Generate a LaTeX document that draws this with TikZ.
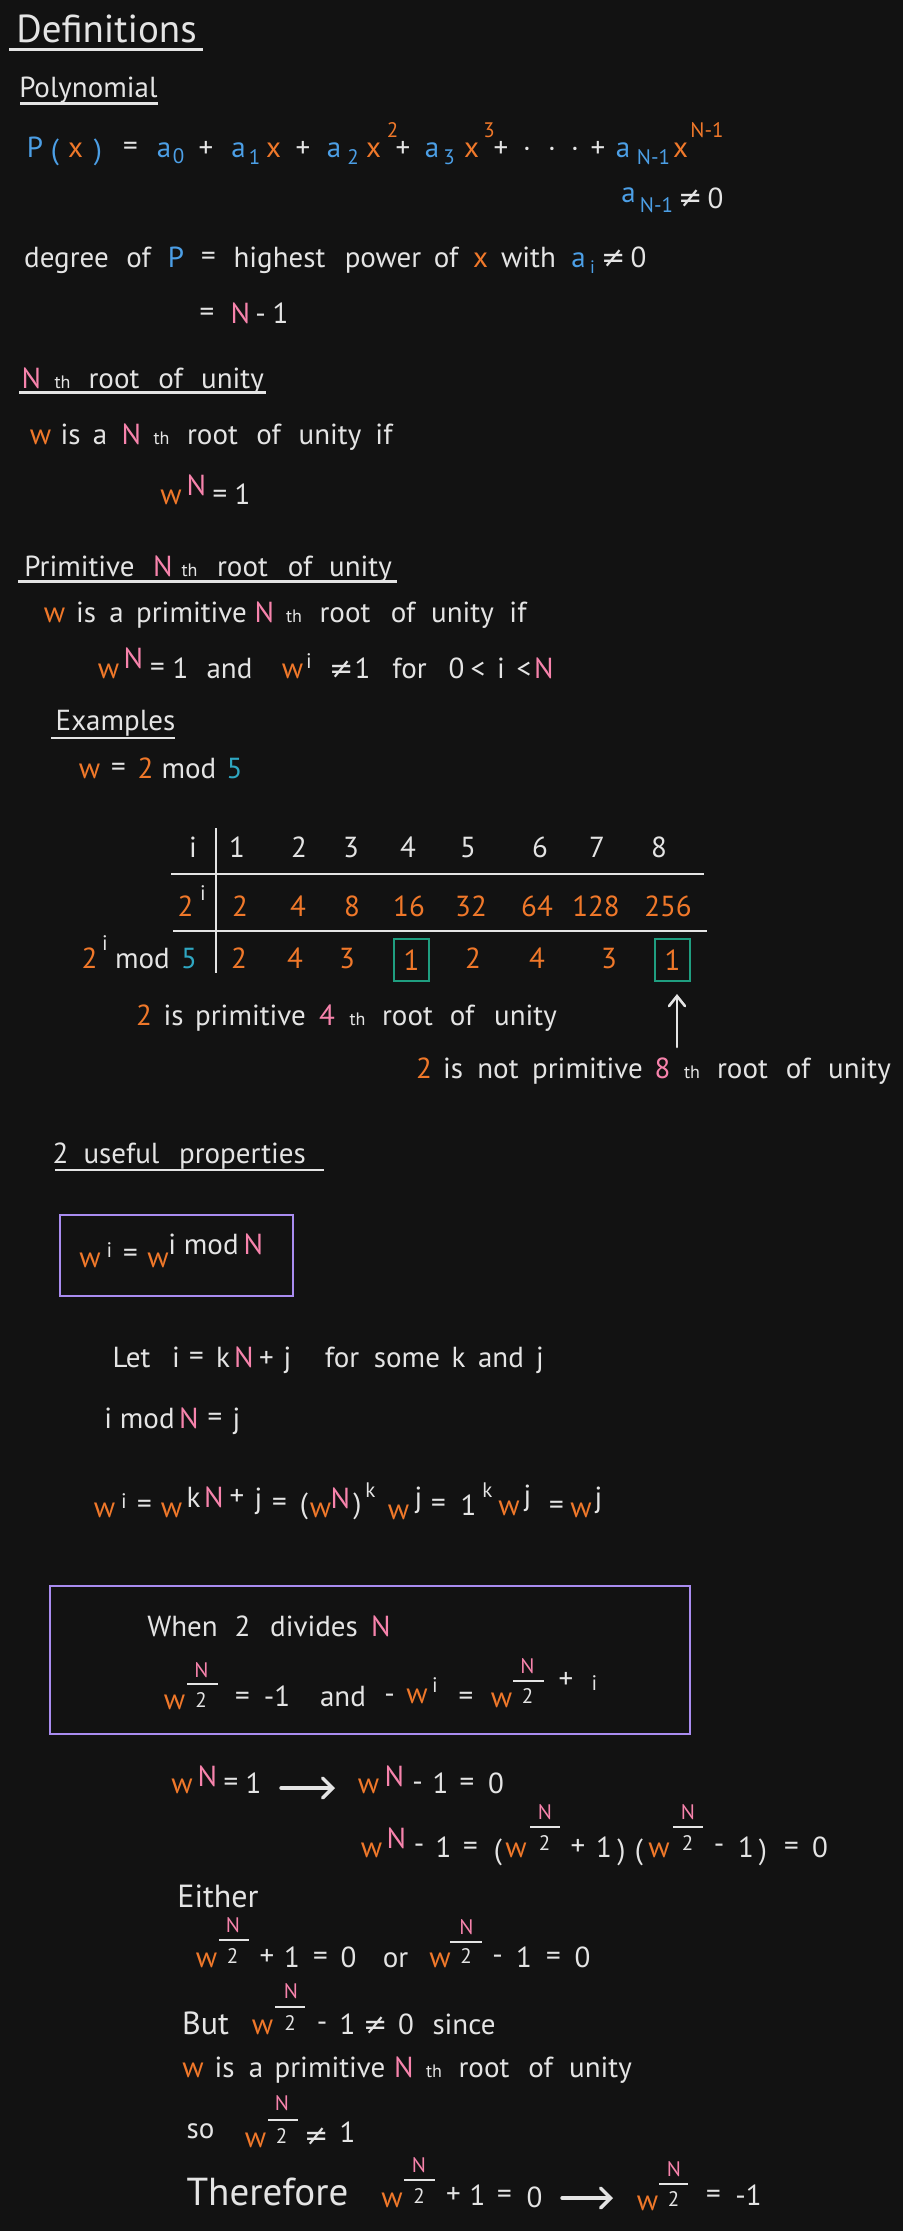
\documentclass[tikz,border=0pt]{standalone}
\usepackage{fontspec}
\setmainfont{PT Sans}
\newfontfamily\symf{DejaVu Sans}
\usetikzlibrary{arrows.meta}
\definecolor{bgc}{HTML}{121212}
\definecolor{fgc}{HTML}{E4E4E4}
\definecolor{orc}{HTML}{F0782A}
\definecolor{blc}{HTML}{4C9FE6}
\definecolor{pkc}{HTML}{F783AC}
\definecolor{tlc}{HTML}{2FA7C2}
\definecolor{gnc}{HTML}{1F9E80}
\definecolor{puc}{HTML}{A98CF0}
\newcommand\fs[1]{\fontsize{#1}{#1}\selectfont}
\newcommand\tk[5][]{\node[tx,#1] (#2) at (#3,#4) {#5};}
\newcommand\neqsym{{\symf ≠}}
\begin{document}
\begin{tikzpicture}[x=1pt,y=-1pt,
  tx/.style={anchor=base, inner sep=0pt, text=fgc, font=\fs{29}},
  cor/.style={text=orc}, cbl/.style={text=blc}, cpk/.style={text=pkc}, ctl/.style={text=tlc},
  sm/.style={font=\fs{21}}, xs/.style={font=\fs{18}}, hd/.style={font=\fs{29}},
  uline/.style={draw=fgc, line width=2.2pt},
  fbar/.style={draw=fgc, line width=1.8pt},
  pbox/.style={draw=puc, line width=2pt},
  gbox/.style={draw=gnc, line width=2pt, minimum width=35pt, minimum height=42pt, anchor=center, inner sep=0pt, text=orc, font=\fs{29}},
  arr/.style={draw=fgc, line width=3.4pt, line cap=round, -{Straight Barb[length=10pt,width=20pt,line cap=round]}},
  arrup/.style={draw=fgc, line width=2.6pt, line cap=round, -{Straight Barb[length=10pt,width=16pt,line cap=round]}}
]
\fill[bgc] (0,0) rectangle (903,2231);
\useasboundingbox (0,0) rectangle (903,2231);

% ---------- Definitions ----------
\tk[font=\fs{39}]{h0}{106.5}{42}{Definitions}
\draw[uline] (9,49.5) -- (203,49.5);
\tk[hd]{h1}{88.4}{97}{Polynomial}
\draw[uline] (20,103.5) -- (158,103.5);

% P(x) line
\tk[cbl]{p1}{35}{157}{P}
\tk[cbl]{p2}{55}{159}{(}
\tk[cor]{p3}{75.5}{157}{x}
\tk[cbl]{p4}{98}{159}{)}
\tk{p5}{130.5}{155}{=}
\tk[cbl]{p6}{164}{157}{a}
\tk[cbl,sm]{p7}{178.5}{163}{0}
\tk{p8}{206}{157}{+}
\tk[cbl]{p9}{238.5}{157}{a}
\tk[cbl,sm]{p10}{254.5}{164}{1}
\tk[cor]{p11}{273.5}{157}{x}
\tk{p12}{303}{157}{+}
\tk[cbl]{p13}{334}{157}{a}
\tk[cbl,sm]{p14}{353}{164}{2}
\tk[cor]{p15}{373.5}{157}{x}
\tk[cor,sm]{p16}{392.5}{137}{2}
\tk{p17}{403}{157}{+}
\tk[cbl]{p18}{432}{157}{a}
\tk[cbl,sm]{p19}{449}{164}{3}
\tk[cor]{p20}{471.5}{157}{x}
\tk[cor,sm]{p21}{489}{137}{3}
\tk{p22}{501}{157}{+}
\tk{p23}{527}{157}{·}
\tk{p24}{552}{157}{·}
\tk{p25}{575}{157}{·}
\tk{p26}{598}{157}{+}
\tk[cbl]{p27}{623}{157}{a}
\tk[cbl,sm]{p28}{653.5}{164}{N-1}
\tk[cor]{p29}{680.5}{157}{x}
\tk[cor,sm]{p30}{707}{137}{N-1}

\tk[cbl]{q1}{628.5}{202}{a}
\tk[cbl,sm]{q2}{656.5}{212}{N-1}
\tk{q3}{691}{207}{\neqsym}
\tk{q4}{715.5}{208}{0}

% degree line
\tk{r1}{66.5}{267}{degree}
\tk{r2}{138.5}{267}{of}
\tk[cbl]{r3}{176}{267}{P}
\tk{r4}{208.5}{265}{=}
\tk{r5}{279.5}{267}{highest}
\tk{r6}{383}{267}{power}
\tk{r7}{446}{267}{of}
\tk[cor]{r8}{480.5}{267}{x}
\tk{r9}{528.5}{267}{with}
\tk[cbl]{r10}{578.5}{267}{a}
\tk[cbl,xs]{r11}{592.5}{273}{i}
\tk{r12}{613.5}{267}{\neqsym}
\tk{r13}{638.5}{267}{0}

\tk{s1}{207}{321}{=}
\tk[cpk]{s2}{240.5}{323}{N}
\tk{s3}{260.5}{323}{-}
\tk{s4}{280.5}{323}{1}

% ---------- N th root of unity ----------
\tk[cpk,hd]{t1}{31.5}{388}{N}
\tk[xs]{t2}{62.5}{388}{th}
\tk[hd]{t3}{114}{388}{root}
\tk[hd]{t4}{170.5}{388}{of}
\tk[hd]{t5}{232.5}{388}{unity}
\draw[uline] (19,392.5) -- (266,392.5);

\tk[cor]{u1}{40.5}{444}{w}
\tk{u2}{70.5}{444}{is}
\tk{u3}{100}{444}{a}
\tk[cpk]{u4}{131.5}{444}{N}
\tk[xs]{u5}{161.5}{444}{th}
\tk{u6}{212.5}{444}{root}
\tk{u7}{268.5}{444}{of}
\tk{u8}{330}{444}{unity}
\tk{u9}{384}{444}{if}

\tk[cor]{v1}{171}{504}{w}
\tk[cpk]{v2}{196.5}{495}{N}
\tk{v3}{220}{503}{=}
\tk{v4}{242.5}{504}{1}

% ---------- Primitive N th root of unity ----------
\tk[hd]{w1}{79.5}{576}{Primitive}
\tk[cpk,hd]{w2}{163}{576}{N}
\tk[xs]{w3}{189.5}{576}{th}
\tk[hd]{w4}{242.5}{576}{root}
\tk[hd]{w5}{300}{576}{of}
\tk[hd]{w6}{360.5}{576}{unity}
\draw[uline] (18,581.5) -- (397,581.5);

\tk[cor]{x1}{54.5}{622}{w}
\tk{x2}{86}{622}{is}
\tk{x3}{116.5}{622}{a}
\tk{x4}{191.5}{622}{primitive}
\tk[cpk]{x5}{264.5}{622}{N}
\tk[xs]{x6}{294}{622}{th}
\tk{x7}{345}{622}{root}
\tk{x8}{403}{622}{of}
\tk{x9}{462.5}{622}{unity}
\tk{x10}{518}{622}{if}

\tk[cor]{y1}{108.5}{678}{w}
\tk[cpk]{y2}{133.5}{668}{N}
\tk{y3}{157.5}{676}{=}
\tk{y4}{180.5}{678}{1}
\tk{y5}{229.5}{678}{and}
\tk[cor]{y6}{292.5}{678}{w}
\tk[sm]{y7}{309}{668}{i}
\tk{y8}{341.5}{678}{\neqsym}
\tk{y9}{362.5}{678}{1}
\tk{y10}{409.5}{678}{for}
\tk{y11}{456.5}{678}{0}
\tk{y12}{478}{678}{<}
\tk{y13}{501}{678}{i}
\tk{y14}{524}{678}{<}
\tk[cpk]{y15}{544}{678}{N}

\tk[hd]{ex}{115.5}{730}{Examples}
\draw[uline] (51,738) -- (175,738);

\tk[cor]{z1}{89.5}{778}{w}
\tk{z2}{118.5}{776}{=}
\tk[cor]{z3}{145.5}{778}{2}
\tk{z4}{189}{778}{mod}
\tk[ctl]{z5}{234.5}{778}{5}

% ---------- table ----------
\draw[uline] (216,828) -- (216,973);
\draw[uline] (171,874) -- (704,874);
\draw[uline] (173,931) -- (707,931);

\tk{a0}{193}{857}{i}
\tk{a1}{237}{857}{1}
\tk{a2}{299}{857}{2}
\tk{a3}{351}{857}{3}
\tk{a4}{408}{857}{4}
\tk{a5}{468}{857}{5}
\tk{a6}{540}{857}{6}
\tk{a7}{597}{857}{7}
\tk{a8}{659}{857}{8}

\tk[cor]{b0}{185.5}{916}{2}
\tk[sm]{b0i}{203}{900}{i}
\tk[cor]{b1}{240}{916}{2}
\tk[cor]{b2}{298}{916}{4}
\tk[cor]{b3}{352}{916}{8}
\tk[cor]{b4}{409}{916}{16}
\tk[cor]{b5}{471}{916}{32}
\tk[cor]{b6}{537}{916}{64}
\tk[cor]{b7}{596}{916}{128}
\tk[cor]{b8}{668}{916}{256}

\tk[cor]{c0}{89.5}{968}{2}
\tk[sm]{c0i}{105}{950}{i}
\tk{c0m}{142.5}{968}{mod}
\tk[ctl]{c0f}{189}{968}{5}
\tk[cor]{c1}{239}{968}{2}
\tk[cor]{c2}{295}{968}{4}
\tk[cor]{c3}{347}{968}{3}
\node[gbox] (c4) at (411.5,960) {1};
\tk[cor]{c5}{473}{968}{2}
\tk[cor]{c6}{537}{968}{4}
\tk[cor]{c7}{609}{968}{3}
\node[gbox] (c8) at (672.5,960) {1};

\tk[cor]{l1}{144}{1025}{2}
\tk{l2}{173.5}{1025}{is}
\tk{l3}{250.5}{1025}{primitive}
\tk[cpk]{l4}{327}{1025}{4}
\tk[xs]{l5}{357.5}{1025}{th}
\tk{l6}{407.5}{1025}{root}
\tk{l7}{462}{1025}{of}
\tk{l8}{525.5}{1025}{unity}

\coordinate (upa) at (677,1047);
\draw[arrup, shorten >=12pt] (upa) -- (upa |- c8.south);

\tk[cor]{m1}{424}{1078}{2}
\tk{m2}{453}{1078}{is}
\tk{m3}{498}{1078}{not}
\tk{m4}{587.5}{1078}{primitive}
\tk[cpk]{m5}{662.5}{1078}{8}
\tk[xs]{m6}{692}{1078}{th}
\tk{m7}{742.5}{1078}{root}
\tk{m8}{798}{1078}{of}
\tk{m9}{859.5}{1078}{unity}

% ---------- 2 useful properties ----------
\tk[hd]{g1}{60.5}{1163}{2}
\tk[hd]{g2}{121.5}{1163}{useful}
\tk[hd]{g3}{242.5}{1163}{properties}
\draw[uline] (55,1170) -- (324,1170);

\draw[pbox] (60,1215) rectangle (293,1296);
\tk[cor]{k1}{90}{1267}{w}
\tk[sm]{k2}{109.5}{1257}{i}
\tk{k3}{130.5}{1262}{=}
\tk[cor]{k4}{158}{1267}{w}
\tk{k5}{203.5}{1254}{i mod}
\tk[cpk]{k6}{253.5}{1254}{N}

\tk{n1}{131.5}{1367}{Let}
\tk{n2}{176}{1367}{i}
\tk{n3}{196.5}{1365}{=}
\tk{n4}{223}{1367}{k}
\tk[cpk]{n5}{244}{1367}{N}
\tk{n6}{266.5}{1367}{+}
\tk{n7}{287.5}{1367}{j}
\tk{n8}{342}{1367}{for}
\tk{n9}{407}{1367}{some}
\tk{n10}{458.5}{1367}{k}
\tk{n11}{501}{1367}{and}
\tk{n12}{540}{1367}{j}

\tk{o1}{139.5}{1428}{i mod}
\tk[cpk]{o2}{189}{1428}{N}
\tk{o3}{215}{1426}{=}
\tk{o4}{236.5}{1428}{j}

\tk[cor]{e1}{104.5}{1517}{w}
\tk[sm]{e2}{124}{1508}{i}
\tk{e3}{144.5}{1513}{=}
\tk[cor]{e4}{171.5}{1517}{w}
\tk{e5}{193.5}{1507}{k}
\tk[cpk]{e6}{214}{1507}{N}
\tk{e7}{237}{1505}{+}
\tk{e8}{258.5}{1508}{j}
\tk{e9}{279.5}{1511}{=}
\tk{e10}{304}{1513}{(}
\tk[cor]{e11}{320.5}{1517}{w}
\tk[cpk]{e12}{340.5}{1508}{N}
\tk{e13}{357.5}{1513}{)}
\tk[sm]{e14}{370.5}{1497}{k}
\tk[cor]{e15}{398.5}{1519}{w}
\tk{e16}{418.5}{1507}{j}
\tk{e17}{438.5}{1512}{=}
\tk{e18}{468.5}{1515}{1}
\tk[sm]{e19}{487.5}{1497}{k}
\tk[cor]{e20}{509}{1515}{w}
\tk{e21}{527.5}{1505}{j}
\tk{e22}{556.5}{1514}{=}
\tk[cor]{e23}{581}{1517}{w}
\tk{e24}{598.5}{1507}{j}

% ---------- box 2 ----------
\draw[pbox] (50,1586) rectangle (690,1734);
\tk{f1}{182.5}{1636}{When}
\tk{f2}{242.5}{1636}{2}
\tk{f3}{314}{1636}{divides}
\tk[cpk]{f4}{381}{1636}{N}

\tk[cor]{f5}{174.5}{1709}{w}
\tk[cpk,sm]{f6}{201.5}{1677}{N}
\draw[fbar] (187,1684) -- (218,1684);
\tk[sm]{f7}{201}{1707}{2}
\tk{f8}{242.5}{1705}{=}
\tk{f9}{277}{1706}{-1}
\tk{f10}{343}{1706}{and}
\tk{f11}{389.5}{1703}{-}
\tk[cor]{f12}{417}{1703}{w}
\tk[sm]{f13}{435}{1692}{i}
\tk{f14}{466}{1705}{=}
\tk[cor]{f15}{501.5}{1707}{w}
\tk[cpk,sm]{f16}{527.5}{1673}{N}
\draw[fbar] (513,1681) -- (544,1681);
\tk[sm]{f17}{527.5}{1703}{2}
\tk{f18}{566}{1688}{+}
\tk[sm]{f19}{594.5}{1690}{i}

% ---------- w^N = 1 -> ----------
\tk[cor]{g4}{182}{1793}{w}
\tk[cpk]{g5}{207.5}{1786}{N}
\tk{g6}{231}{1791}{=}
\tk{g7}{253.5}{1793}{1}
\coordinate (ar1s) at (281,1788);
\coordinate (ar1e) at (335,1788);
\draw[arr] (ar1s) -- (ar1e);
\tk[cor]{g8}{368.5}{1793}{w}
\tk[cpk]{g9}{394.5}{1786}{N}
\tk{g10}{417.5}{1791}{-}
\tk{g11}{440.5}{1793}{1}
\tk{g12}{467}{1791}{=}
\tk{g13}{496}{1793}{0}

\tk[cor]{i1}{371.5}{1857}{w}
\tk[cpk]{i2}{396.5}{1848}{N}
\tk{i3}{419}{1853}{-}
\tk{i4}{443.5}{1857}{1}
\tk{i5}{470.5}{1855}{=}
\tk{i6}{498}{1859}{(}
\tk[cor]{i7}{516}{1857}{w}
\tk[cpk,sm]{i8}{545}{1819}{N}
\draw[fbar] (530,1827) -- (560,1827);
\tk[sm]{i9}{544.5}{1850}{2}
\tk{i10}{578}{1855}{+}
\tk{i11}{604}{1857}{1}
\tk{i12}{621.5}{1859}{)}
\tk{i13}{639}{1859}{(}
\tk[cor]{i14}{659}{1857}{w}
\tk[cpk,sm]{i15}{688}{1819}{N}
\draw[fbar] (673,1827) -- (703,1827);
\tk[sm]{i16}{687.5}{1850}{2}
\tk{i17}{719}{1853}{-}
\tk{i18}{746}{1857}{1}
\tk{i19}{763}{1859}{)}
\tk{i20}{791.5}{1855}{=}
\tk{i21}{820}{1857}{0}

% ---------- Either ----------
\tk[font=\fs{32}]{j1}{218}{1907}{Either}
\tk[cor]{j2}{206.5}{1967}{w}
\tk[cpk,sm]{j3}{233}{1932}{N}
\draw[fbar] (219,1940) -- (249,1940);
\tk[sm]{j4}{232.5}{1963}{2}
\tk{j5}{267}{1965}{+}
\tk{j6}{292}{1967}{1}
\tk{j7}{320.5}{1965}{=}
\tk{j8}{348.5}{1967}{0}
\tk{j9}{395.5}{1967}{or}
\tk[cor]{j10}{440}{1967}{w}
\tk[cpk,sm]{j11}{466.5}{1934}{N}
\draw[fbar] (450,1942) -- (482,1942);
\tk[sm]{j12}{466}{1963}{2}
\tk{j13}{497.5}{1964}{-}
\tk{j14}{524}{1967}{1}
\tk{j15}{553.5}{1965}{=}
\tk{j16}{582.5}{1967}{0}

% ---------- But ----------
\tk[font=\fs{32}]{bt1}{205.5}{2034}{But}
\tk[cor]{bt2}{262.5}{2034}{w}
\tk[cpk,sm]{bt3}{291}{1998}{N}
\draw[fbar] (275,2007) -- (305,2007);
\tk[sm]{bt4}{290}{2030}{2}
\tk{bt5}{322}{2031}{-}
\tk{bt6}{347.5}{2034}{1}
\tk{bt7}{375.5}{2034}{\neqsym}
\tk{bt8}{406}{2034}{0}
\tk{bt9}{464}{2034}{since}

\tk[cor]{pr1}{193}{2077}{w}
\tk{pr2}{224.5}{2077}{is}
\tk{pr3}{256}{2077}{a}
\tk{pr4}{330}{2077}{primitive}
\tk[cpk]{pr5}{404}{2077}{N}
\tk[xs]{pr6}{434}{2077}{th}
\tk{pr7}{484}{2077}{root}
\tk{pr8}{540.5}{2077}{of}
\tk{pr9}{600.5}{2077}{unity}

% ---------- so ----------
\tk{so1}{200.5}{2138}{so}
\tk[cor]{so2}{255.5}{2147}{w}
\tk[cpk,sm]{so3}{282}{2110}{N}
\draw[fbar] (268,2120) -- (298,2120);
\tk[sm]{so4}{281.5}{2143}{2}
\tk{so5}{316.5}{2145}{\neqsym}
\tk{so6}{347.5}{2142}{1}

% ---------- Therefore ----------
\tk[font=\fs{39}]{th1}{267.5}{2205}{Therefore}
\tk[cor]{th2}{392}{2207}{w}
\tk[cpk,sm]{th3}{419}{2172}{N}
\draw[fbar] (404,2180) -- (435,2180);
\tk[sm]{th4}{419}{2203}{2}
\tk{th5}{453.5}{2203}{+}
\tk{th6}{477.5}{2205}{1}
\tk{th7}{504.5}{2203}{=}
\tk{th8}{534.5}{2207}{0}
\coordinate (ar2s) at (562,2198);
\coordinate (ar2e) at (613,2198);
\draw[arr] (ar2s) -- (ar2e);
\tk[cor]{th9}{647.5}{2210}{w}
\tk[cpk,sm]{th10}{674}{2176}{N}
\draw[fbar] (659,2184) -- (688,2184);
\tk[sm]{th11}{673.5}{2206}{2}
\tk{th12}{713.5}{2203}{=}
\tk{th13}{748.5}{2205}{-1}
\end{tikzpicture}
\end{document}
